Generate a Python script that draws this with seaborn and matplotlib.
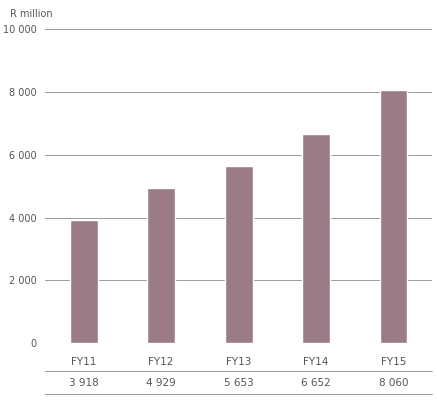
import matplotlib
matplotlib.use("Agg")
import matplotlib.pyplot as plt
import seaborn as sns
import pandas as pd
from matplotlib.lines import Line2D

years = ["FY11", "FY12", "FY13", "FY14", "FY15"]
values = [3918, 4929, 5653, 6652, 8060]
value_labels = ["3 918", "4 929", "5 653", "6 652", "8 060"]
yticks = [0, 2000, 4000, 6000, 8000, 10000]
ytick_labels = ["0", "2 000", "4 000", "6 000", "8 000", "10 000"]

sns.set_style("white")
plt.rcParams["font.family"] = ["DejaVu Sans"]
grey = "#555555"

fig = plt.figure(figsize=(4.37, 4.02), dpi=100)
ax = fig.add_axes([0.103, 0.144, 0.886, 0.781])
df = pd.DataFrame({"year": years, "value": values})
sns.barplot(data=df, x="year", y="value", color="#9c7c84", saturation=1, width=0.36, ax=ax)

ax.set_ylim(0, 10000)
ax.set_yticks(yticks)
ax.set_yticklabels(ytick_labels, fontsize=7, color=grey)
ax.yaxis.grid(True, color="#9a9a9a", linewidth=0.7)
ax.set_axisbelow(True)
ax.tick_params(axis="y", length=0, pad=6)
for lbl in ax.get_yticklabels():
    lbl.set_verticalalignment("center")
ax.set_xticks(range(len(years)))
ax.set_xticklabels(years, fontsize=7.5, color=grey)
ax.tick_params(axis="x", length=0, pad=9)
ax.set_xlabel("")
ax.set_ylabel("")
sns.despine(ax=ax, left=True, bottom=True)

# value row under the chart
for i, v in enumerate(value_labels):
    ax.text(i, -0.125, v, transform=ax.get_xaxis_transform(), ha="center", va="center",
            fontsize=7.5, color=grey)
for yf in [1 - 372 / 402, 1 - 395 / 402]:
    fig.add_artist(Line2D([0.103, 0.989], [yf, yf], color="#9a9a9a", linewidth=0.7))

fig.text(10 / 437, 1 - 14 / 402, "R million", fontsize=7, color=grey, va="center")

fig.savefig("out.png", dpi=100)
